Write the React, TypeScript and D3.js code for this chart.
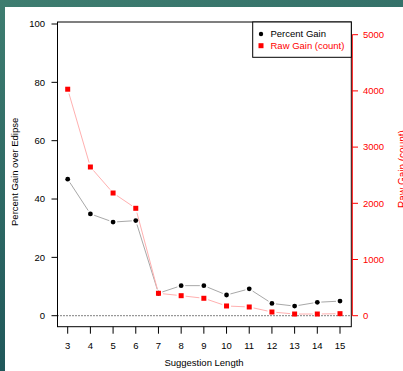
import React from "react";
import * as d3 from "d3";

const lengths = [3, 4, 5, 6, 7, 8, 9, 10, 11, 12, 13, 14, 15];
const percentGain = [46.8, 34.9, 32.1, 32.6, 7.7, 10.3, 10.3, 7.1, 9.2, 4.2, 3.3, 4.6, 5.0];
const rawGain = [4030, 2646, 2183, 1911, 399, 356, 310, 173, 155, 66, 30, 30, 36];
const leftTicks = [0, 20, 40, 60, 80, 100];
const rightTicks = [0, 1000, 2000, 3000, 4000, 5000];
const legendLabels = ["Percent Gain", "Raw Gain (count)"];

const W = 403, H = 371;
const FONT = "'Liberation Sans', Arial, Helvetica, sans-serif";

function gapSegments(pts: [number, number][], gap: number) {
  const segs: string[] = [];
  for (let i = 0; i < pts.length - 1; i++) {
    const [x1, y1] = pts[i];
    const [x2, y2] = pts[i + 1];
    const dx = x2 - x1, dy = y2 - y1;
    const len = Math.hypot(dx, dy);
    if (len <= 2 * gap) continue;
    const ux = dx / len, uy = dy / len;
    segs.push(`M${x1 + ux * gap},${y1 + uy * gap}L${x2 - ux * gap},${y2 - uy * gap}`);
  }
  return segs.join("");
}

export default function App() {
  const box = { left: 57.5, right: 351.3, top: 22, bottom: 326.7 };
  const x = d3.scaleLinear().domain([3, 15]).range([67.7, 340]);
  const yL = d3.scaleLinear().domain([0, 100]).range([315.7, 24]);
  const yR = d3.scaleLinear().domain([0, 5000]).range([315.7, 34.7]);

  const pPts = lengths.map((l, i) => [x(l), yL(percentGain[i])] as [number, number]);
  const rPts = lengths.map((l, i) => [x(l), yR(rawGain[i])] as [number, number]);

  return (
    <svg width={W} height={H} style={{ position: "absolute", left: 0, top: 0 }} fontFamily={FONT}>
      <defs>
        <linearGradient id="bg" x1="0" y1="0" x2="0.3" y2="1">
          <stop offset="0" stopColor="#3e7d70" />
          <stop offset="1" stopColor="#1d5458" />
        </linearGradient>
      </defs>
      <rect x={0} y={0} width={W} height={H} fill="url(#bg)" />
      <rect x={5} y={7} width={W - 5} height={H - 7} fill="#ffffff" />

      {/* zero dotted line */}
      <line x1={box.left} x2={box.right} y1={yL(0)} y2={yL(0)} stroke="#000" strokeWidth={1} strokeDasharray="1,2" />

      {/* lines */}
      <path d={gapSegments(pPts, 4)} stroke="#a8a8a8" strokeWidth={1} fill="none" />
      <path d={gapSegments(rPts, 4.5)} stroke="#ffb0b0" strokeWidth={1} fill="none" />

      {/* points */}
      {pPts.map((p, i) => (
        <circle key={"p" + i} cx={p[0]} cy={p[1]} r={2.4} fill="#000" />
      ))}
      {rPts.map((p, i) => (
        <rect key={"r" + i} x={p[0] - 2.5} y={p[1] - 2.5} width={5} height={5} fill="#ff0000" />
      ))}

      {/* plot box */}
      <rect x={box.left} y={box.top} width={box.right - box.left} height={box.bottom - box.top} fill="none" stroke="#000" strokeWidth={1} />

      {/* left axis */}
      {leftTicks.map((t) => (
        <g key={"lt" + t}>
          <line x1={box.left - 6} x2={box.left} y1={yL(t)} y2={yL(t)} stroke="#000" />
          <text x={45} y={yL(t)} dy="0.35em" textAnchor="end" fontSize={9.5} fill="#000">{t}</text>
        </g>
      ))}
      <text transform={`translate(15,${(yL(0) + yL(100)) / 2 + 2}) rotate(-90)`} textAnchor="middle" fontSize={9.5} dy="0.35em" fill="#000">
        Percent Gain over Edipse
      </text>

      {/* right axis */}
      <line x1={352.3} x2={352.3} y1={yR(0)} y2={yR(5000)} stroke="#ff0000" strokeWidth={1} />
      {rightTicks.map((t) => (
        <g key={"rt" + t}>
          <line x1={352.3} x2={358} y1={yR(t)} y2={yR(t)} stroke="#ff0000" />
          <text x={363} y={yR(t)} dy="0.35em" textAnchor="start" fontSize={9.5} fill="#ff0000">{t}</text>
        </g>
      ))}
      <text transform={`translate(402.7,169) rotate(-90)`} textAnchor="middle" fontSize={10} dy="0.35em" fill="#ff0000">
        Raw Gain (count)
      </text>

      {/* bottom axis */}
      {lengths.map((l) => (
        <g key={"bt" + l}>
          <line x1={x(l)} x2={x(l)} y1={box.bottom} y2={box.bottom + 7} stroke="#000" />
          <text x={x(l)} y={346} dy="0.35em" textAnchor="middle" fontSize={9.5} fill="#000">{l}</text>
        </g>
      ))}
      <text x={204} y={362.7} dy="0.35em" textAnchor="middle" fontSize={9.5} fill="#000">Suggestion Length</text>

      {/* legend */}
      <rect x={252.7} y={box.top} width={box.right - 252.7} height={57.3 - box.top} fill="#fff" stroke="#000" strokeWidth={1} />
      <circle cx={261} cy={34} r={2.2} fill="#000" />
      <text x={270.5} y={34} dy="0.35em" fontSize={9.5} fill="#000">{legendLabels[0]}</text>
      <rect x={258.5} y={43.2} width={5} height={5} fill="#ff0000" />
      <text x={270.5} y={45.7} dy="0.35em" fontSize={9.5} fill="#ff0000">{legendLabels[1]}</text>
    </svg>
  );
}
